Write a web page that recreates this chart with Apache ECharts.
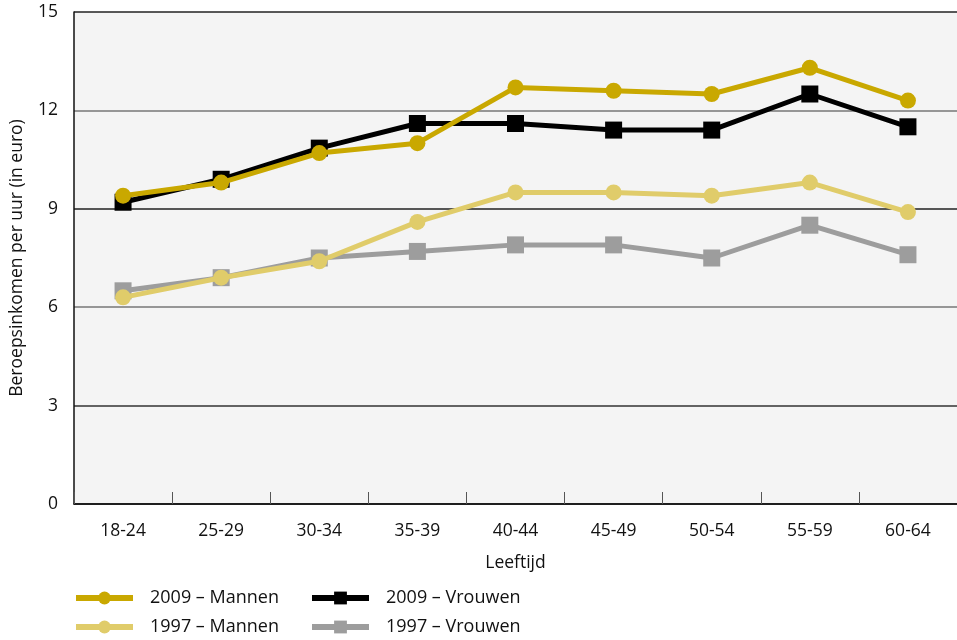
<!DOCTYPE html>
<html><head><meta charset="utf-8">
<script src="https://cdn.jsdelivr.net/npm/echarts@6/dist/echarts.min.js"></script>
<style>html,body{margin:0;padding:0;background:#fff}#c{width:957px;height:640px}</style>
</head><body><div id="c"></div>
<script>
const categories = ['18-24','25-29','30-34','35-39','40-44','45-49','50-54','55-59','60-64'];
const yTicks = [0, 3, 6, 9, 12, 15];
const mannen2009 = [9.4, 9.8, 10.7, 11.0, 12.7, 12.6, 12.5, 13.3, 12.3];
const vrouwen2009 = [9.2, 9.9, 10.85, 11.6, 11.6, 11.4, 11.4, 12.5, 11.5];
const mannen1997 = [6.3, 6.9, 7.4, 8.6, 9.5, 9.5, 9.4, 9.8, 8.9];
const vrouwen1997 = [6.5, 6.9, 7.5, 7.7, 7.9, 7.9, 7.5, 8.5, 7.6];
const names = ['2009 – Mannen', '2009 – Vrouwen', '1997 – Mannen', '1997 – Vrouwen'];

const FONT = 'Open Sans';
const FS = 17.5;
const chart = echarts.init(document.getElementById('c'), null, {renderer: 'canvas'});
function mk(name, data, color, symbol, z) {
  return {
    name, type: 'line', data, symbol, symbolSize: symbol === 'circle' ? 16 : 17,
    z,
    lineStyle: {color, width: 5},
    itemStyle: {color},
    emphasis: {disabled: true}
  };
}
function legend(name, left, top) {
  return {
    data: [name], left, top, itemWidth: 57, itemHeight: 16, itemGap: 0,
    lineStyle: {width: 6},
    textStyle: {fontFamily: FONT, fontSize: 18, color: '#111', padding: [0, 0, 0, 12]},
    selectedMode: false, padding: 0
  };
}
chart.setOption({
  animation: false,
  backgroundColor: '#fff',
  grid: {left: 73, right: 0, top: 12, bottom: 136, show: true, backgroundColor: '#f4f4f4', borderWidth: 0},
  legend: [
    legend(names[0], 73, 589),
    legend(names[1], 309, 589),
    legend(names[2], 73, 618),
    legend(names[3], 309, 618)
  ],
  xAxis: {
    type: 'category', data: categories, boundaryGap: true,
    name: 'Leeftijd', nameLocation: 'middle', nameGap: 50,
    nameTextStyle: {fontFamily: FONT, fontSize: FS, color: '#111'},
    axisLine: {lineStyle: {color: '#111', width: 1.5}},
    axisTick: {show: true, inside: true, length: 12, lineStyle: {color: '#555'}},
    axisLabel: {fontFamily: FONT, fontSize: FS, color: '#111', margin: 18}
  },
  yAxis: {
    type: 'value', min: 0, max: 15, interval: 3,
    name: 'Beroepsinkomen per uur (in euro)', nameLocation: 'middle', nameGap: 48,
    nameTextStyle: {fontFamily: FONT, fontSize: FS, color: '#111'},
    axisLine: {show: true, lineStyle: {color: '#111', width: 1.5}},
    axisTick: {show: false},
    axisLabel: {fontFamily: FONT, fontSize: FS, color: '#111', margin: 16,
      formatter: v => yTicks.includes(v) ? String(v) : ''},
    splitLine: {show: true, lineStyle: {color: ['#111', '#333', '#777', '#222', '#777', '#222'], width: 1.5}}
  },
  series: [
    mk(names[3], vrouwen1997, '#9d9d9d', 'rect', 2),
    mk(names[2], mannen1997, '#e0cc6a', 'circle', 3),
    mk(names[1], vrouwen2009, '#000000', 'rect', 4),
    mk(names[0], mannen2009, '#c9a800', 'circle', 5)
  ]
});
</script></body></html>
